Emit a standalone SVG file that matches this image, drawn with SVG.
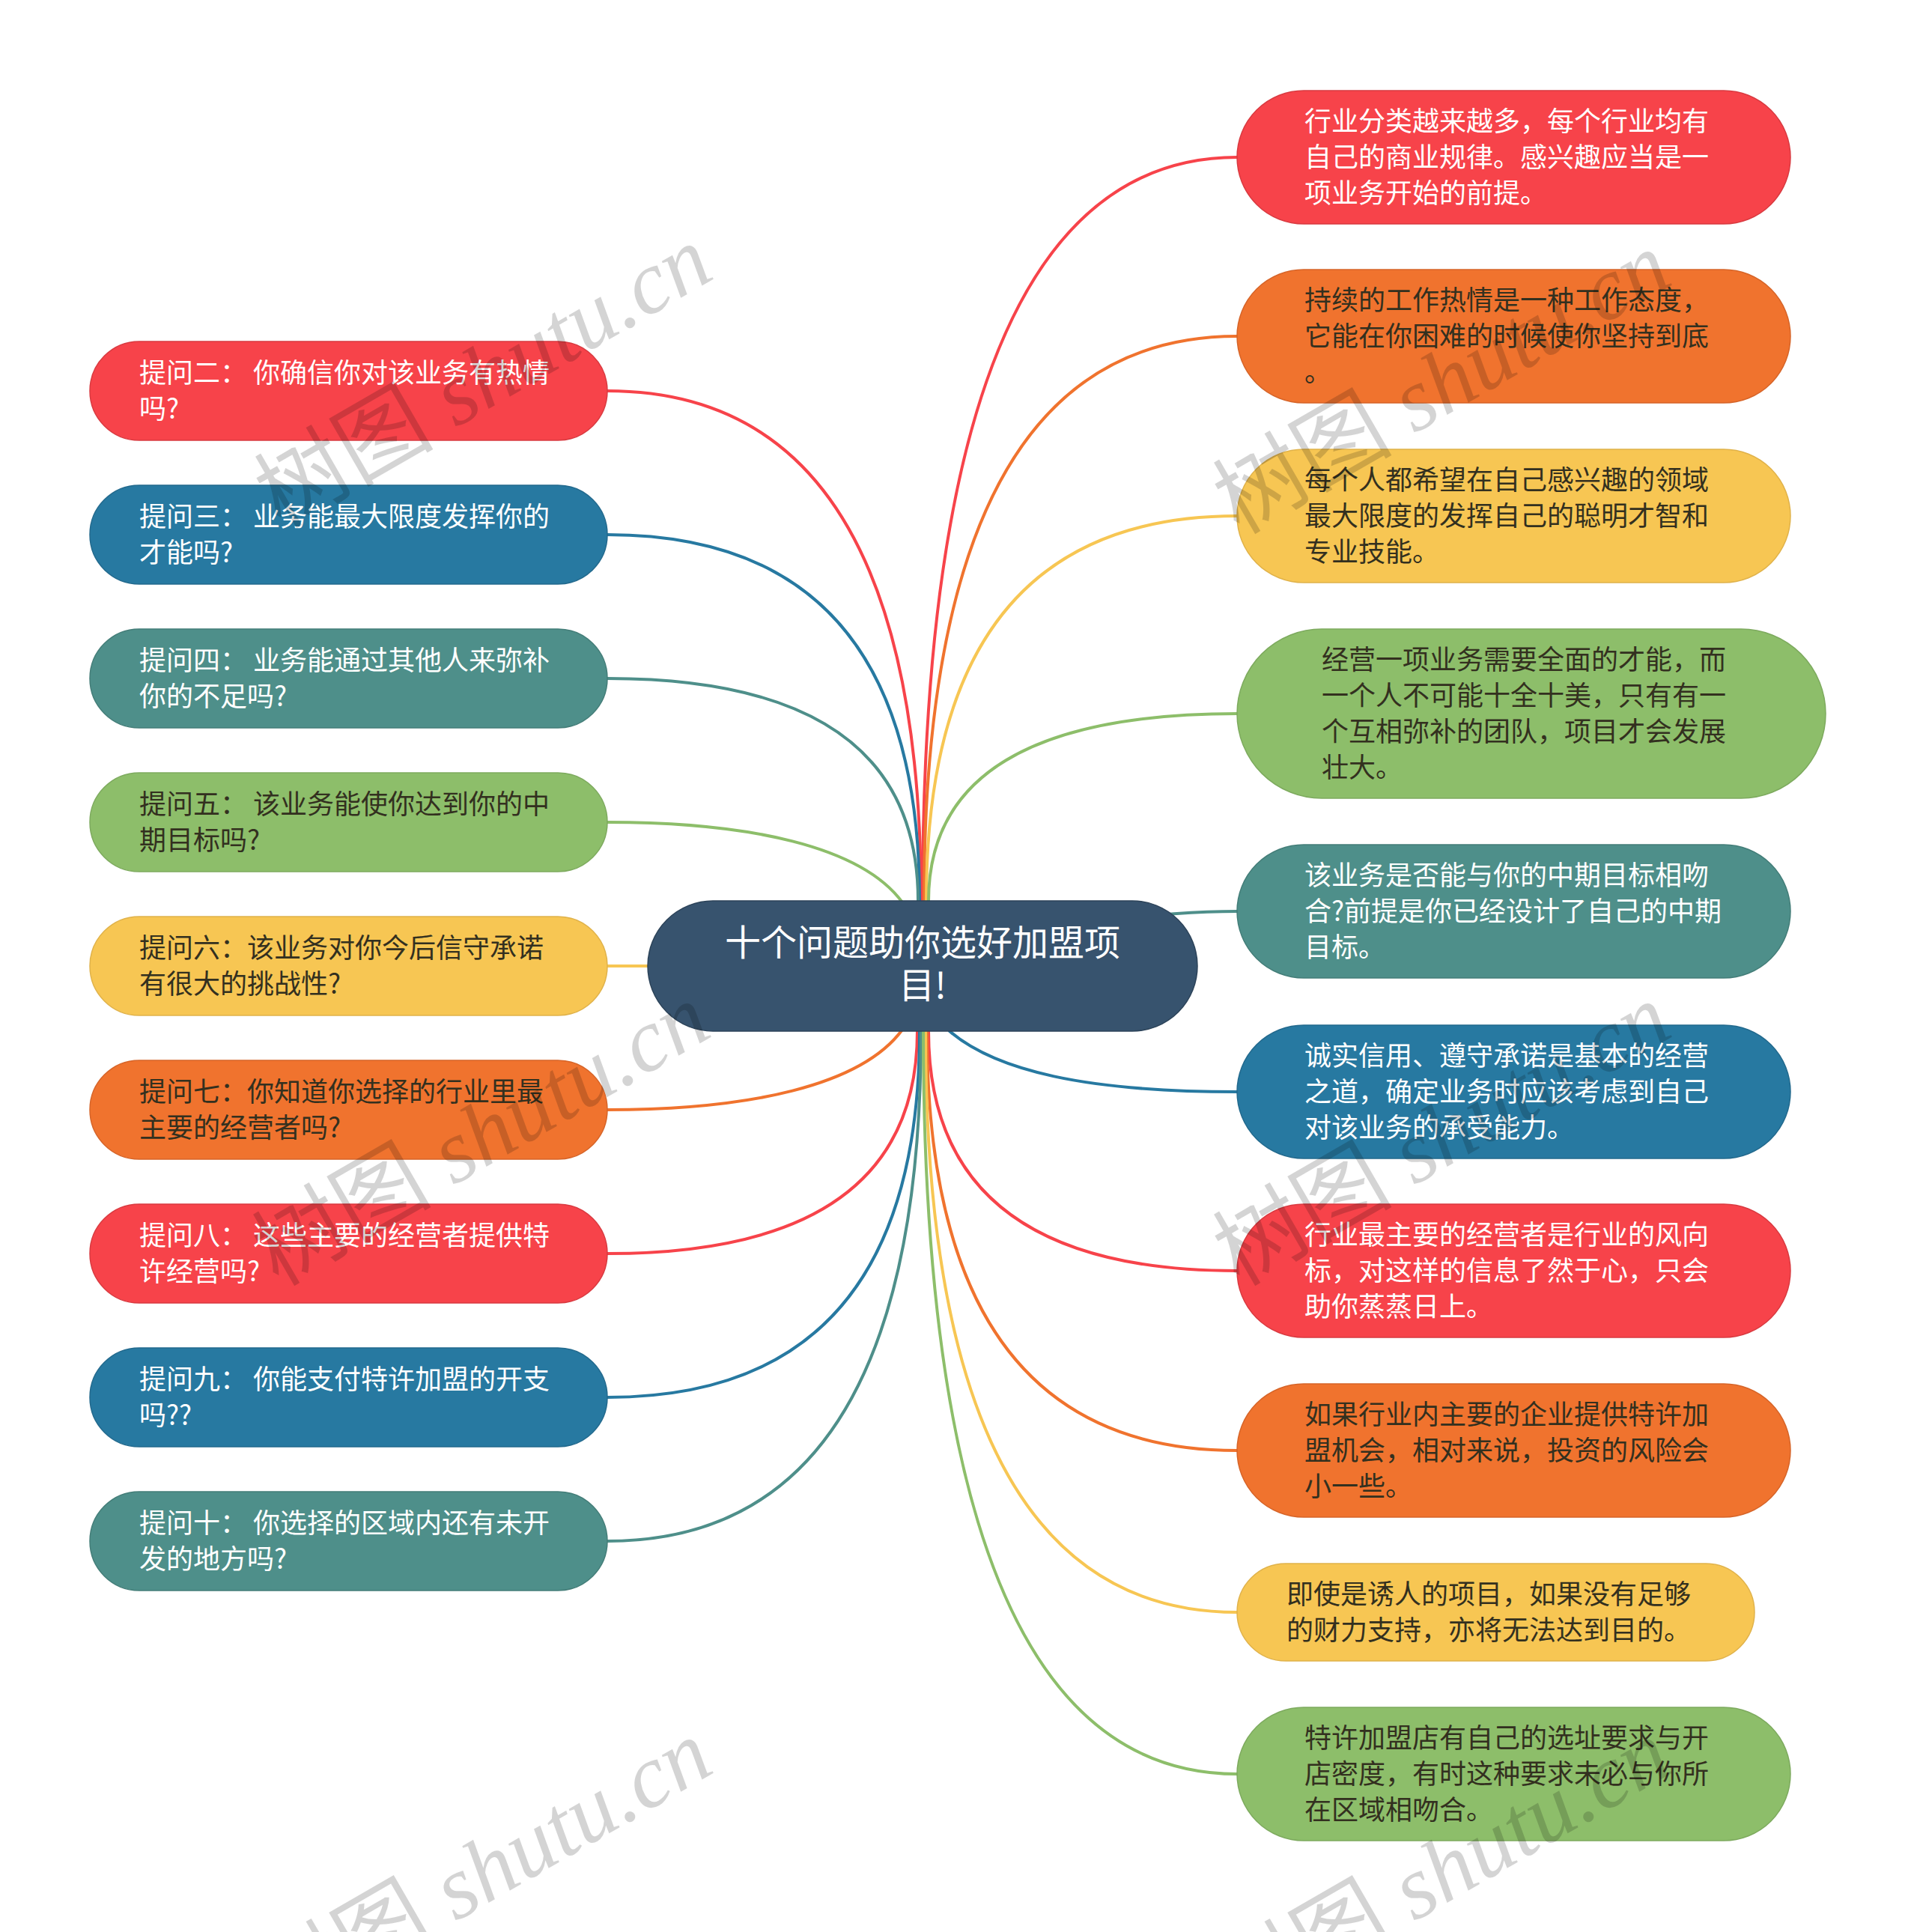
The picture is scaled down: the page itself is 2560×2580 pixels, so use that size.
<svg xmlns="http://www.w3.org/2000/svg" width="2560" height="2580" viewBox="0 0 2560 2580">
<style>
.t{font-family:"Noto Sans CJK SC","Noto Sans",sans-serif;font-size:36px}
.w{fill:#ffffff}
.d{fill:#33301f}
.title{font-family:"Noto Sans CJK SC","Noto Sans",sans-serif;font-size:48px;fill:#ffffff;text-anchor:middle}
.c{fill:none;stroke-width:4;stroke-linecap:round}
.red{fill:#F7434A;stroke:#D93A40;stroke-width:1.5}
.org{fill:#F0732E;stroke:#D66428;stroke-width:1.5}
.yel{fill:#F7C653;stroke:#E0B24A;stroke-width:1.5}
.grn{fill:#8DBE6A;stroke:#7DAA5E;stroke-width:1.5}
.tea{fill:#4E8F8A;stroke:#437D78;stroke-width:1.5}
.blu{fill:#2779A1;stroke:#22698D;stroke-width:1.5}
.wm{font-family:"Liberation Serif","Noto Sans CJK SC",serif;font-size:120px;fill:#000000;fill-opacity:0.17;text-anchor:middle}
</style>
<rect width="2560" height="2580" fill="#ffffff"/>
<g id="connectors">
<path class="c" stroke="#F7434A" d="M811,522 Q1230,522 1230,1203"/>
<path class="c" stroke="#2779A1" d="M811,714 Q1228,714 1228,1203"/>
<path class="c" stroke="#4E8F8A" d="M811,906 Q1226,906 1226,1203"/>
<path class="c" stroke="#8DBE6A" d="M811,1098 C1000,1098 1150,1130 1205,1205"/>
<path class="c" stroke="#F7C653" d="M811,1290 L868,1290"/>
<path class="c" stroke="#F0732E" d="M811,1482 C1000,1482 1150,1450 1205,1375"/>
<path class="c" stroke="#F7434A" d="M811,1674 Q1225,1674 1225,1377"/>
<path class="c" stroke="#2779A1" d="M811,1866 Q1228,1866 1228,1377"/>
<path class="c" stroke="#4E8F8A" d="M811,2058 Q1230,2058 1230,1377"/>
<path class="c" stroke="#F7434A" d="M1652,210 Q1232,210 1232,1203"/>
<path class="c" stroke="#F0732E" d="M1652,449 Q1234,449 1234,1203"/>
<path class="c" stroke="#F7C653" d="M1652,689 Q1237,689 1237,1203"/>
<path class="c" stroke="#8DBE6A" d="M1652,953 Q1240,953 1240,1203"/>
<path class="c" stroke="#4E8F8A" d="M1652,1217 C1610,1217 1600,1218 1556,1221"/>
<path class="c" stroke="#2779A1" d="M1652,1458 C1450,1458 1330,1430 1268,1377"/>
<path class="c" stroke="#F7434A" d="M1652,1697 Q1240,1697 1240,1377"/>
<path class="c" stroke="#F0732E" d="M1652,1937 Q1238,1937 1238,1377"/>
<path class="c" stroke="#F7C653" d="M1652,2153 Q1236,2153 1236,1377"/>
<path class="c" stroke="#8DBE6A" d="M1652,2369 Q1233,2369 1233,1377"/>
</g>
<g id="center">
<rect x="865" y="1203" width="734" height="174" rx="87" fill="#37536E" stroke="#2C4359" stroke-width="1.5"/>
<text class="title" x="1232" y="1276">十个问题助你选好加盟项</text>
<text class="title" x="1232" y="1333">目!</text>
</g>
<g id="q2"><rect class="red" x="120" y="456" width="691" height="132" rx="66"/><text class="t w" x="186" y="511">提问二： 你确信你对该业务有热情</text><text class="t w" x="186" y="559">吗?</text></g>
<g id="q3"><rect class="blu" x="120" y="648" width="691" height="132" rx="66"/><text class="t w" x="186" y="703">提问三： 业务能最大限度发挥你的</text><text class="t w" x="186" y="751">才能吗?</text></g>
<g id="q4"><rect class="tea" x="120" y="840" width="691" height="132" rx="66"/><text class="t w" x="186" y="895">提问四： 业务能通过其他人来弥补</text><text class="t w" x="186" y="943">你的不足吗?</text></g>
<g id="q5"><rect class="grn" x="120" y="1032" width="691" height="132" rx="66"/><text class="t d" x="186" y="1087">提问五： 该业务能使你达到你的中</text><text class="t d" x="186" y="1135">期目标吗?</text></g>
<g id="q6"><rect class="yel" x="120" y="1224" width="691" height="132" rx="66"/><text class="t d" x="186" y="1279">提问六：该业务对你今后信守承诺</text><text class="t d" x="186" y="1327">有很大的挑战性?</text></g>
<g id="q7"><rect class="org" x="120" y="1416" width="691" height="132" rx="66"/><text class="t d" x="186" y="1471">提问七：你知道你选择的行业里最</text><text class="t d" x="186" y="1519">主要的经营者吗?</text></g>
<g id="q8"><rect class="red" x="120" y="1608" width="691" height="132" rx="66"/><text class="t w" x="186" y="1663">提问八： 这些主要的经营者提供特</text><text class="t w" x="186" y="1711">许经营吗?</text></g>
<g id="q9"><rect class="blu" x="120" y="1800" width="691" height="132" rx="66"/><text class="t w" x="186" y="1855">提问九： 你能支付特许加盟的开支</text><text class="t w" x="186" y="1903">吗??</text></g>
<g id="q10"><rect class="tea" x="120" y="1992" width="691" height="132" rx="66"/><text class="t w" x="186" y="2047">提问十： 你选择的区域内还有未开</text><text class="t w" x="186" y="2095">发的地方吗?</text></g>
<g id="a1"><rect class="red" x="1652" y="121" width="739" height="178" rx="89"/><text class="t w" x="1742" y="175">行业分类越来越多，每个行业均有</text><text class="t w" x="1742" y="223">自己的商业规律。感兴趣应当是一</text><text class="t w" x="1742" y="271">项业务开始的前提。</text></g>
<g id="a2"><rect class="org" x="1652" y="360" width="739" height="178" rx="89"/><text class="t d" x="1742" y="414">持续的工作热情是一种工作态度，</text><text class="t d" x="1742" y="462">它能在你困难的时候使你坚持到底</text><text class="t d" x="1742" y="510">。</text></g>
<g id="a3"><rect class="yel" x="1652" y="600" width="739" height="178" rx="89"/><text class="t d" x="1742" y="654">每个人都希望在自己感兴趣的领域</text><text class="t d" x="1742" y="702">最大限度的发挥自己的聪明才智和</text><text class="t d" x="1742" y="750">专业技能。</text></g>
<g id="a4"><rect class="grn" x="1652" y="840" width="786" height="226" rx="113"/><text class="t d" x="1765" y="894">经营一项业务需要全面的才能，而</text><text class="t d" x="1765" y="942">一个人不可能十全十美，只有有一</text><text class="t d" x="1765" y="990">个互相弥补的团队，项目才会发展</text><text class="t d" x="1765" y="1038">壮大。</text></g>
<g id="a5"><rect class="tea" x="1652" y="1128" width="739" height="178" rx="89"/><text class="t w" x="1742" y="1182">该业务是否能与你的中期目标相吻</text><text class="t w" x="1742" y="1230">合?前提是你已经设计了自己的中期</text><text class="t w" x="1742" y="1278">目标。</text></g>
<g id="a6"><rect class="blu" x="1652" y="1369" width="739" height="178" rx="89"/><text class="t w" x="1742" y="1423">诚实信用、遵守承诺是基本的经营</text><text class="t w" x="1742" y="1471">之道，确定业务时应该考虑到自己</text><text class="t w" x="1742" y="1519">对该业务的承受能力。</text></g>
<g id="a7"><rect class="red" x="1652" y="1608" width="739" height="178" rx="89"/><text class="t w" x="1742" y="1662">行业最主要的经营者是行业的风向</text><text class="t w" x="1742" y="1710">标，对这样的信息了然于心，只会</text><text class="t w" x="1742" y="1758">助你蒸蒸日上。</text></g>
<g id="a8"><rect class="org" x="1652" y="1848" width="739" height="178" rx="89"/><text class="t d" x="1742" y="1902">如果行业内主要的企业提供特许加</text><text class="t d" x="1742" y="1950">盟机会，相对来说，投资的风险会</text><text class="t d" x="1742" y="1998">小一些。</text></g>
<g id="a9"><rect class="yel" x="1652" y="2088" width="691" height="130" rx="65"/><text class="t d" x="1718" y="2142">即使是诱人的项目，如果没有足够</text><text class="t d" x="1718" y="2190">的财力支持，亦将无法达到目的。</text></g>
<g id="a10"><rect class="grn" x="1652" y="2280" width="739" height="178" rx="89"/><text class="t d" x="1742" y="2334">特许加盟店有自己的选址要求与开</text><text class="t d" x="1742" y="2382">店密度，有时这种要求未必与你所</text><text class="t d" x="1742" y="2430">在区域相吻合。</text></g>
<g id="watermarks">
<text class="wm" transform="translate(645,502) rotate(-30)" y="42">树图 <tspan font-style="italic">shutu.cn</tspan></text>
<text class="wm" transform="translate(1925,510) rotate(-30)" y="42">树图 <tspan font-style="italic">shutu.cn</tspan></text>
<text class="wm" transform="translate(642,1514) rotate(-30)" y="42">树图 <tspan font-style="italic">shutu.cn</tspan></text>
<text class="wm" transform="translate(1925,1514) rotate(-30)" y="42">树图 <tspan font-style="italic">shutu.cn</tspan></text>
<text class="wm" transform="translate(645,2497) rotate(-30)" y="42">树图 <tspan font-style="italic">shutu.cn</tspan></text>
<text class="wm" transform="translate(1925,2497) rotate(-30)" y="42">树图 <tspan font-style="italic">shutu.cn</tspan></text>
</g>
</svg>
